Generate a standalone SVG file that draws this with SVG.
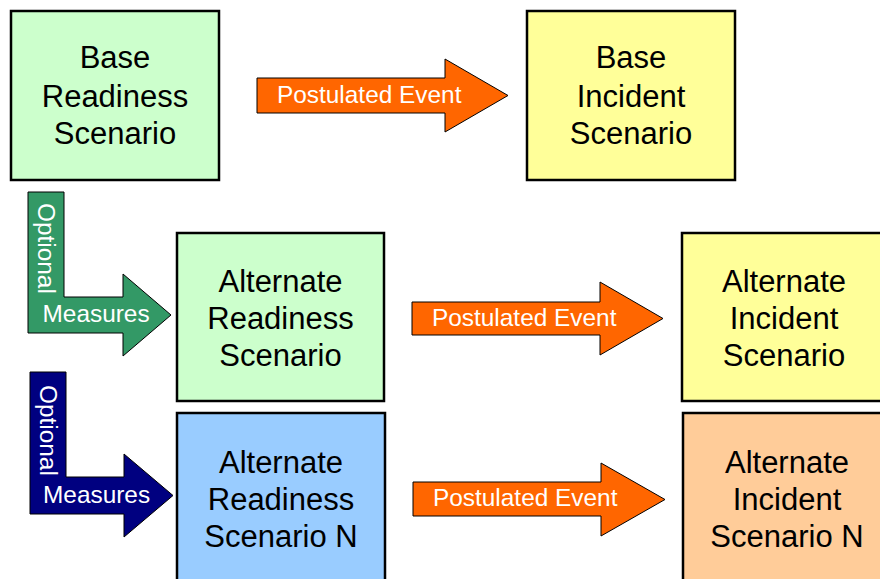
<svg xmlns="http://www.w3.org/2000/svg" width="880" height="579" viewBox="0 0 880 579">
<style>
.box{stroke:#000;stroke-width:2.5}
.bt{font-family:"Liberation Sans",Arial,sans-serif;font-size:31px;fill:#000;text-anchor:middle}
.arr{stroke:#000;stroke-width:1}
.at{font-family:"Liberation Sans",Arial,sans-serif;font-size:24.4px;fill:#fff}
.g{fill:#CCFFCC}.y{fill:#FFFF99}.b{fill:#99CCFF}.p{fill:#FFCC99}
</style>
<rect width="880" height="579" fill="#fff"/>
<g id="base-readiness">
<rect class="box g" x="11" y="11" width="208" height="169"/>
<text class="bt" x="115"><tspan x="115" y="68">Base</tspan><tspan x="115" y="106.5">Readiness</tspan><tspan x="115" y="144">Scenario</tspan></text>
</g>
<g id="base-incident">
<rect class="box y" x="527" y="11" width="208" height="169"/>
<text class="bt"><tspan x="631" y="68">Base</tspan><tspan x="631" y="106.5">Incident</tspan><tspan x="631" y="144">Scenario</tspan></text>
</g>
<g id="alt-readiness">
<rect class="box g" x="177" y="233" width="207" height="168"/>
<text class="bt"><tspan x="280.5" y="291.5">Alternate</tspan><tspan x="280.5" y="328.5">Readiness</tspan><tspan x="280.5" y="365.5">Scenario</tspan></text>
</g>
<g id="alt-incident">
<rect class="box y" x="682" y="233" width="208" height="168"/>
<text class="bt"><tspan x="784" y="291.5">Alternate</tspan><tspan x="784" y="328.5">Incident</tspan><tspan x="784" y="365.5">Scenario</tspan></text>
</g>
<g id="alt-readiness-n">
<rect class="box b" x="177" y="413" width="208" height="180"/>
<text class="bt"><tspan x="281" y="472.5">Alternate</tspan><tspan x="281" y="510">Readiness</tspan><tspan x="281" y="547">Scenario N</tspan></text>
</g>
<g id="alt-incident-n">
<rect class="box p" x="683" y="413" width="208" height="180"/>
<text class="bt"><tspan x="787" y="472.5">Alternate</tspan><tspan x="787" y="510">Incident</tspan><tspan x="787" y="547">Scenario N</tspan></text>
</g>
<g id="connectors">
<g id="event-1">
<polygon class="arr" fill="#FF6600" points="257,78 445,78 445,59 508,95.5 445,132 445,113 257,113"/>
<text class="at" x="277" y="103">Postulated Event</text>
</g>
<g id="event-2">
<polygon class="arr" fill="#FF6600" points="412,302 600,302 600,282 663,318.5 600,355 600,335 412,335"/>
<text class="at" x="432" y="326">Postulated Event</text>
</g>
<g id="event-3">
<polygon class="arr" fill="#FF6600" points="413,482 601,482 601,463 665,499.5 601,536 601,516 413,516"/>
<text class="at" x="433" y="506">Postulated Event</text>
</g>
<g id="measures-1">
<polygon class="arr" fill="#339966" points="28,192 64,192 64,297 123,297 123,274 171,315 123,356 123,333 28,333"/>
<text class="at" transform="translate(38,203) rotate(90)">Optional</text>
<text class="at" x="42.5" y="322">Measures</text>
</g>
<g id="measures-2">
<polygon class="arr" fill="#000080" points="30,372 66,372 66,477 124,477 124,454 173,495.5 124,537 124,514 30,514"/>
<text class="at" transform="translate(40,385) rotate(90)">Optional</text>
<text class="at" x="43" y="503">Measures</text>
</g>
</g>
</svg>
